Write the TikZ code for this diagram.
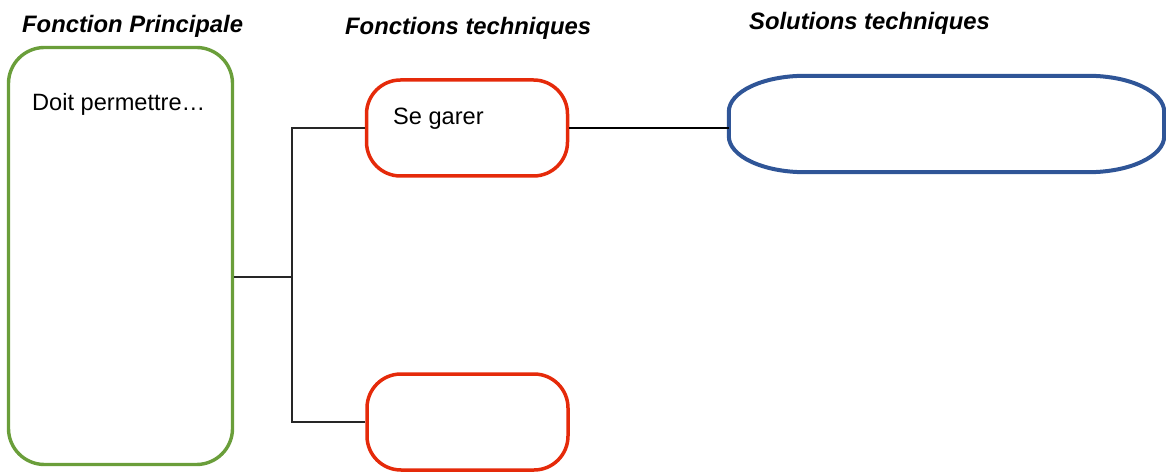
\documentclass[tikz,border=0pt]{standalone}
\usepackage{fontspec}
\setmainfont{Liberation Sans}
\definecolor{fpgreen}{HTML}{6A9E3A}
\definecolor{ftred}{HTML}{E52A0A}
\definecolor{stblue}{HTML}{2F5597}
\begin{document}
\begin{tikzpicture}[x=1pt,y=1pt,
  heading/.style={anchor=base west,inner sep=0pt,font=\fontsize{23.8}{28}\selectfont\bfseries\itshape},
  body/.style={anchor=base west,inner sep=0pt,font=\fontsize{23.6}{28}\selectfont},
  fpbox/.style={draw=fpgreen,line width=3.4pt,rounded corners=36pt,minimum width=224pt,minimum height=417pt,inner sep=0pt},
  ftbox/.style={draw=ftred,line width=3.5pt,rounded corners=34pt,minimum width=201pt,minimum height=96pt,inner sep=0pt},
  stshape/.style={draw=stblue,line width=4pt},
  link/.style={draw=black!85,line width=2.2pt}]
\useasboundingbox (0,0) rectangle (1166,474);
% headings
\node[heading] (h1) at (22,441) {Fonction Principale};
\node[heading] (h2) at (345,439) {Fonctions techniques};
\node[heading] (h3) at (749,444) {Solutions techniques};
% boxes
\node[fpbox] (fp) at (120.5,218) {};
\node[ftbox] (ft1) at (467,346) {};
\node[ftbox] (ft2) at (467.5,52) {};
\node[minimum width=435pt,minimum height=96pt,inner sep=0pt] (st) at (946.5,350) {};
\draw[stshape] ([xshift=76pt]st.north west) -- ([xshift=-76pt]st.north east)
  arc[start angle=90,end angle=0,x radius=76pt,y radius=36pt]
  -- ([yshift=36pt]st.south east)
  arc[start angle=0,end angle=-90,x radius=76pt,y radius=36pt]
  -- ([xshift=76pt]st.south west)
  arc[start angle=270,end angle=180,x radius=76pt,y radius=36pt]
  -- ([yshift=-36pt]st.north west)
  arc[start angle=180,end angle=90,x radius=76pt,y radius=36pt] -- cycle;
% texts in boxes
\node[body] (t1) at (32,363) {Doit permettre…};
\node[body] (t2) at (393,349) {Se garer};
% connectors
\coordinate (bus) at (292,197);
\path[link] (fp.east |- bus) -- (bus);
\path[link] (ft1.west) -| (bus);
\path[link] (ft2.west) -| (bus);
\draw[black,line width=1.8pt] (ft1.east) -- (ft1.east -| st.west);
\end{tikzpicture}
\end{document}
